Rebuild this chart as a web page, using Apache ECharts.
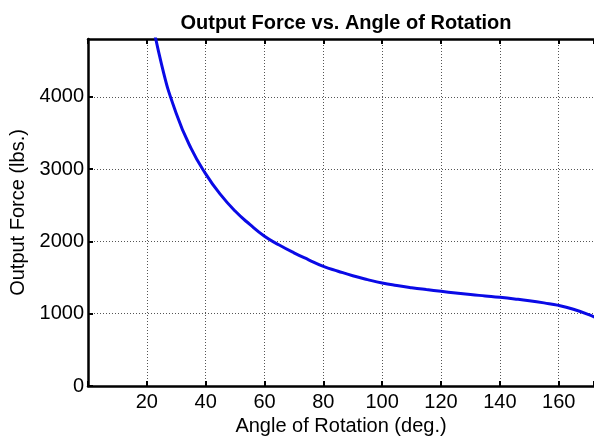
<!DOCTYPE html>
<html>
<head>
<meta charset="utf-8">
<script src="https://cdn.jsdelivr.net/npm/echarts@6/dist/echarts.min.js"></script>
<style>
  html, body { margin: 0; padding: 0; background: #fff; }
  #chart { width: 594px; height: 436px; }
</style>
</head>
<body>
<div id="chart"></div>
<script>
// values
const angles = [20, 25, 30, 35, 40, 45, 50, 55, 60, 65, 70, 75, 80, 85, 90, 95, 100, 105, 110, 115, 120, 125, 130, 135, 140, 145, 150, 155, 160, 165, 170, 175];
const forces = [5450, 4450, 3770, 3290, 2935, 2650, 2420, 2235, 2072, 1950, 1842, 1746, 1655, 1588, 1525, 1472, 1425, 1390, 1360, 1334, 1310, 1287, 1265, 1246, 1227, 1205, 1180, 1150, 1115, 1062, 990, 900];
const xTicks = [20, 40, 60, 80, 100, 120, 140, 160];

const font = "Liberation Sans, Arial, sans-serif";
const chart = echarts.init(document.getElementById("chart"));

const gridLine = { show: true, showMaxLine: false, lineStyle: { color: "#555", type: [1, 2], width: 1 } };
const tick = { show: true, inside: true, length: 5, lineStyle: { color: "#000", width: 2 } };

chart.setOption({
  animation: false,
  title: {
    text: "Output Force vs. Angle of Rotation",
    left: 341,
    top: 8,
    textAlign: "center",
    textStyle: { fontFamily: font, fontSize: 20, fontWeight: "bold", color: "#000" },
  },
  grid: { left: 88, top: 39, right: 0, bottom: 50, outerBoundsMode: "none", containLabel: false },
  xAxis: [
    {
      type: "value",
      min: 0,
      max: 172,
      interval: 20,
      position: "bottom",
      name: "Angle of Rotation (deg.)",
      nameLocation: "middle",
      nameGap: 25,
      nameTextStyle: { fontFamily: font, fontSize: 20, color: "#000" },
      axisLine: { show: true, onZero: false, lineStyle: { color: "#000", width: 2.5 } },
      axisTick: tick,
      axisLabel: {
        fontFamily: font, fontSize: 20, color: "#000", margin: 6,
        formatter: (v) => (xTicks.includes(v) ? String(v) : ""),
      },
      splitLine: gridLine,
    },
    {
      type: "value",
      min: 0,
      max: 172,
      interval: 20,
      position: "top",
      axisLine: { show: true, onZero: false, lineStyle: { color: "#000", width: 2.5 } },
      axisTick: tick,
      axisLabel: { show: false },
      splitLine: { show: false },
    },
  ],
  yAxis: {
    type: "value",
    min: 0,
    max: 4800,
    interval: 1000,
    name: "Output Force (lbs.)",
    nameLocation: "middle",
    nameGap: 54,
    nameTextStyle: { fontFamily: font, fontSize: 20, color: "#000" },
    axisLine: { show: true, lineStyle: { color: "#000", width: 2.5 } },
    axisTick: tick,
    axisLabel: {
      fontFamily: font, fontSize: 20, color: "#000", margin: 4, showMaxLabel: false,
      formatter: (v) => String(v),
    },
    splitLine: gridLine,
  },
  series: [
    {
      type: "line",
      xAxisIndex: 0,
      data: angles.map((a, i) => [a, forces[i]]),
      smooth: 0.5,
      showSymbol: false,
      clip: true,
      lineStyle: { color: "#0a0ae6", width: 3 },
    },
  ],
});
</script>
</body>
</html>
